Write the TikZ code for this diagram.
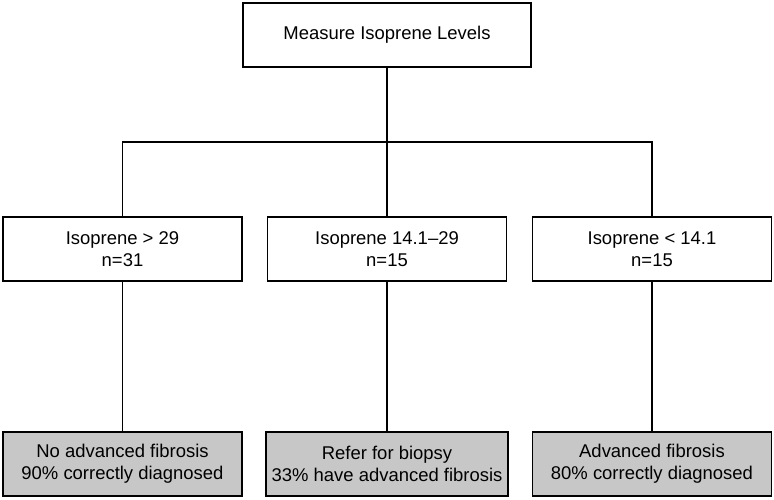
\documentclass[tikz,border=0pt]{standalone}
\usepackage{fontspec}
\setmainfont{Liberation Sans}
\usepackage{tikz}
\usetikzlibrary{positioning}

\begin{document}
\begin{tikzpicture}[font=\fontsize{10.5}{12.4}\selectfont, line width=1.1pt]
			\useasboundingbox (0,0) rectangle (15.48,9.98);

			\begin{scope}[every node/.style={rectangle,draw,align=center,minimum height=1.28cm}]
				\node[minimum width=5.76cm] (measure) at (7.74,9.28) {Measure Isoprene Levels};
				\node[minimum width=4.78cm] (high) at (2.45,5.0) {Isoprene > 29\\n=31};
				\node[minimum width=4.78cm] (mid) at (7.74,5.0) {Isoprene 14.1--29\\n=15};
				\node[minimum width=4.78cm] (low) at (13.04,5.0) {Isoprene < 14.1\\n=15};
			\end{scope}

			\begin{scope}[every node/.style={rectangle,draw,fill=black!22,align=center,minimum width=4.78cm,minimum height=1.28cm}]
				\node (nofib) at (2.45,0.70) {No advanced fibrosis\\90\% correctly diagnosed};
				\node (biopsy) at (7.74,0.70) {Refer for biopsy\\33\% have advanced fibrosis};
				\node (fib) at (13.04,0.70) {Advanced fibrosis\\80\% correctly diagnosed};
			\end{scope}

			\coordinate (split) at (7.74,7.14);

			\begin{scope}[every edge/.style={draw, line width=1.1pt}]
				\path (measure) edge (split);
				\draw (split) -| (high);
				\draw (split) -| (low);
				\path (split) edge (mid);
				\path (high) edge (nofib);
				\path (mid) edge (biopsy);
				\path (low) edge (fib);
			\end{scope}
		\end{tikzpicture}
\end{document}
